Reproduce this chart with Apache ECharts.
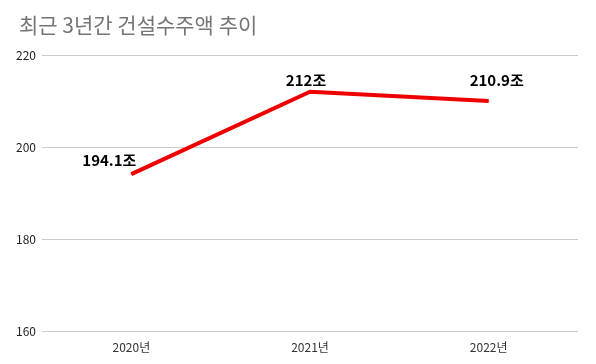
<!DOCTYPE html>
<html>
<head>
<meta charset="utf-8">
<script src="https://cdn.jsdelivr.net/npm/echarts@6/dist/echarts.min.js"></script>
<style>
html, body { margin: 0; padding: 0; background: #fff; }
#main-chart { width: 596px; height: 364px; }
</style>
</head>
<body>
<div id="main-chart"></div>
<script>
// 데이터
var years = ['2020년', '2021년', '2022년'];
var orderValues = [194.1, 212, 210];
var valueLabels = ['194.1조', '212조', '210.9조'];
var labelOffsets = [[-22, -14], [-4, -12], [8, -21]];

var font = "'Noto Sans CJK KR', 'Noto Sans', sans-serif";

var points = orderValues.map(function (v, i) {
	return {
		value: v,
		label: { formatter: valueLabels[i], offset: labelOffsets[i] }
	};
});

option = {
	backgroundColor: '#fff',
	title: {
		text: '최근 3년간 건설수주액 추이',
		left: 14,
		top: 10,
		textStyle: { fontFamily: font, fontSize: 21, fontWeight: 'normal', color: '#757575' }
	},
	grid: {
		left: 42,
		right: 18,
		top: 55,
		bottom: 33
	},
	xAxis: {
		type: 'category',
		boundaryGap: true,
		data: years,
		axisLine: { show: false },
		axisTick: { show: false },
		axisLabel: { fontFamily: font, fontSize: 12, color: '#333', margin: 10 }
	},
	yAxis: {
		type: 'value',
		min: 160,
		max: 220,
		interval: 20,
		axisLine: { show: false },
		axisTick: { show: false },
		axisLabel: { fontFamily: font, fontSize: 12, color: '#222', margin: 6 },
		splitLine: { lineStyle: { color: '#cccccc', width: 1 } }
	},
	series: [
		{
			type: 'line',
			data: points,
			showSymbol: true,
			symbol: 'circle',
			symbolSize: 1,
			lineStyle: { color: '#ee0000', width: 4 },
			itemStyle: { color: '#ee0000' },
			label: {
				show: true,
				position: 'inside',
				fontFamily: font,
				fontSize: 15,
				fontWeight: 'bold',
				color: '#000'
			}
		}
	]
};

var myChart = echarts.init(document.getElementById('main-chart'));
myChart.setOption(option);
</script>
</body>
</html>
